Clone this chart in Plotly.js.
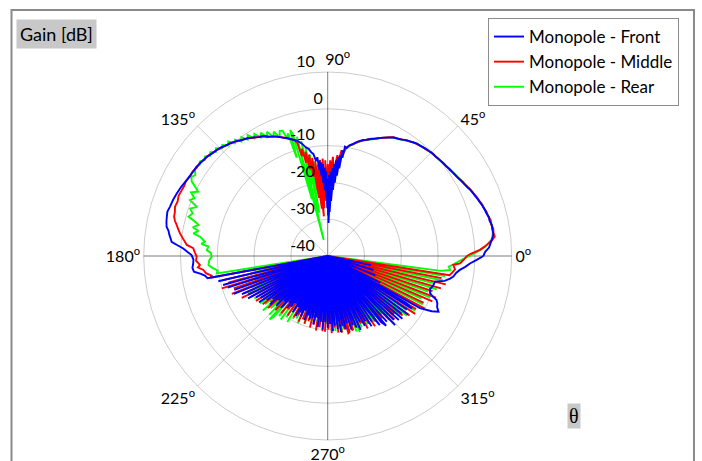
<!DOCTYPE html>
<html>
<head>
<meta charset="utf-8">
<script src="https://cdn.plot.ly/plotly-3.0.1.min.js"></script>
<style>
html,body{margin:0;padding:0;background:#fff;}
#chart{width:702px;height:461px;}
</style>
</head>
<body>
<div id="chart"></div>
<script>
// ---------- DATA (angle in degrees, gain in dB) ----------
const seriesNames = ["Monopole - Front", "Monopole - Middle", "Monopole - Rear"];
const angleTicks = [0, 45, 90, 135, 180, 225, 270, 315];
const angleTickText = ["0<sup>o</sup>", "45<sup>o</sup>", "\u2003\u200290<sup>o</sup>", "135<sup>o</sup>", "180<sup>o</sup>", "225<sup>o</sup>", "270<sup>o</sup>", "315<sup>o</sup>"];
const gainTicks = [-40, -30, -20, -10, 0, 10];
const gainTickText = ["-40", "-30", "-20", "-10", "0", "10"];

const frontTheta = [0,1.5,3,4.5,5.6,7,8,9.5,10.7,12.5,13.5,15,16.5,18,19.5,20.4,22,23.5,25,25.7,27.5,29.5,31.6,33.5,35.5,37,38.7,40.5,42.5,44,45.5,47.5,49.5,51.7,53.5,55.7,57.5,59.5,61,63,65,67.4,69.5,71.5,73,74.3,76,77.5,79,80,81,
81.5,82,82.5,83,83.5,84,84.5,85,85.5,86,86.5,87,87.5,88,88.5,89,89.5,90,90.5,91,91.5,92,92.5,93,93.5,94,94.5,95,95.5,96,97,98,99,100,
101.5,103,105,107,109,110.5,111.9,113.5,115,116.5,118.2,120,122,124.5,126.5,128.5,130.9,133,134.5,136.3,138.5,140.6,143,145.7,148.5,151.7,154.5,157.5,160,162.6,164.5,166.3,168,169.7,171,172.4,173.5,174.8,176,177,178.5,179.6,181.5,183.1,185,186.7,188,189.1,190.5,
192,193,194,195.5,196.5,197.5,198.5,200,201,202,203,204,205,206,207,208,209,210,211,212,213,214,215,216,217,218,219,220,221,222,223,224,225,226,227,228,229,230,231,232,233,234,235,236,237,238,239,240,241,242,243,244,245,246,247,248,249,250,251,252,253,254,255,256,257,258,259,260,261,262,263,264,265,266,267,268,269,270,271,272,273,274,275,276,277,278,279,280,281,282,283,284,285,286,287,288,289,290,291,292,293,294,295,296,297,298,299,300,301,302,303,304,305,306,307,308,309,310,311,312,313,314.3,315,316,317,318,319,320,321,322,323,324,325,326,327,328,329,329.5,333,334,338,339,343,344,348,349,
330.5,332,333.3,335,336.5,338,339,340,342,344,346.6,348,349.5,350.7,352.5,354,355.5,357,358.5,360];
const frontGain = [2.3,2.8,3.9,4.4,4.8,5.3,5.4,5.3,5.4,5.0,5.1,4.7,4.5,4.2,3.9,3.7,3.3,3.0,2.7,2.4,2.0,1.6,1.15,0.9,0.7,0.4,0.3,0.1,-0.1,-0.1,-0.3,-0.5,-0.8,-1.0,-1.5,-1.9,-2.5,-2.9,-3.2,-3.9,-4.5,-5.4,-6.0,-6.7,-7.0,-7.5,-8.2,-8.9,-9.4,-10.2,-9.9,
-13,-11,-16,-12.5,-18,-13,-20,-14,-22,-15,-25,-16,-28,-17,-31,-18,-29,-19,-27,-17,-24,-16,-22,-15,-20,-14.5,-18,-14,-16.5,-13,-14,-12,-11.5,-10.5,
-9.8,-8.6,-7.5,-6.9,-6.1,-5.7,-5.2,-4.6,-4.2,-3.8,-3.0,-2.7,-2.0,-1.2,-0.8,-0.1,0.5,0.9,1.4,1.7,2.0,2.5,2.7,3.1,3.2,3.5,4.0,4.4,4.7,4.9,5.2,5.0,4.8,4.5,3.8,3.4,3.0,2.6,0.8,-0.7,-2.0,-3.0,-3.5,-3.4,-3.1,-3.4,-5.2,-6.2,-6.8,
-40,-9.5,-40,-10.5,-40,-11.5,-40,-13,-40,-12.5,-40,-14.5,-40,-16,-40,-15.5,-40,-17.5,-40,-18.5,-40,-17.5,-32,-19.5,-40,-21,-31,-19.5,-40,-22,-33,-20.5,-40,-23,-30,-21,-40,-23.5,-32,-22,-40,-23,-31,-24.5,-40,-22,-33,-24,-40,-21.5,-30,-23,-40,-22,-32,-24,-40,-21.5,-31,-23,-40,-22,-33,-22.6,-40,-21,-30,-23,-40,-20.5,-32,-22,-40,-20,-31,-22,-40,-20.5,-33,-21.5,-40,-19.5,-30,-21,-40,-20,-32,-19,-40,-20.5,-31,-19.5,-40,-21,-33,-19,-40,-20,-30,-19,-40,-18,-32,-20,-40,-18.5,-31,-19.5,-40,-17.5,-40,-18.5,-40,-22,-16.5,-40,-17,-15.3,-40,-16,-40,-13.8,-40,-15,-40,-14,-40,-13.5,-40,-14.5,-40,-13,-40,-14,-40,-13,-15,-40,-24,-40,-26,-40,-27,-40,-28,-40,
-11.2,-8,-6.3,-7.2,-7.5,-8.1,-9.5,-10.4,-10.8,-10.3,-10,-7.5,-6.2,-5.4,-4.8,-3.9,-2.5,-1.3,0.5,2.3];

const middleTheta = [0,1,2.3,3.5,4.5,5.5,6.6,8,9.5,11,12.5,14,15.5,17,18.5,20,21.5,23,24.5,26,27.5,29,31,33,35,37,39,41,43,45,47,49,51,53,55,57,59,61,63,65,67,69,71,73,75,77,79,80.5,
81.5,82.5,83.5,84.5,85.5,86.4,87,88,88.5,89.5,90,91,91.5,92.5,93,94,94.6,95.5,96,97,97.5,98.5,99,100,100.5,101.5,102,103,103.5,104.5,105,
106,108,110,112,114,116,118,120,122,124,126,128,130,132,134,136,138,140,142,144,146,148,150,152,154,155.7,158,160,162.1,164,165.6,167,168.4,170,171.3,172.8,174.3,175.5,176.7,178.5,180.3,182,184,185,186.4,188,189.6,190.5,
191.5,193,194,195,196,197,198,199,200,201.5,202.5,204,205,206,207,208,209,210,211,212,213,214,215,216.5,217.5,219,220,221,222,223.5,224.5,226,227,228.5,229.5,231,232,233.5,234.5,236,237,238.5,239.5,241,242,243.5,244.5,246,247,248.5,249.5,251,252,253.5,254.5,256,257,258.5,259.5,261,262,263.5,264.5,266,267,268,269,270.5,271.5,273,274,275.5,276.5,278,279,280.5,281.5,283,284,285,286,287,288,289,290,291.5,292.5,294,295,296.5,297.5,299,300,301.5,302.5,304,305,306.5,307.5,309,310,311.5,312.5,314,315,316.5,317.5,319,320,321.5,322.5,324,325,326.5,327.5,329,330,331.5,332.5,334,335,336.5,337.5,339,340,341.5,342.5,344,345,346.5,347.5,349,350,
351,352.5,354,355.9,356.8,358.3,360];
const middleGain = [-2.2,-1.0,1.4,2.8,3.8,4.9,5.7,5.5,5.6,5.2,5.3,4.9,4.8,4.4,4.2,3.8,3.6,3.2,2.9,2.5,2.1,1.8,1.3,1.0,0.6,0.5,0.2,0.1,-0.2,-0.2,-0.6,-0.7,-1.1,-1.3,-1.9,-2.3,-2.8,-3.1,-3.8,-4.6,-5.2,-5.9,-6.5,-7.2,-7.9,-8.7,-9.5,-10.3,
-12,-11,-14,-12.5,-16,-15.7,-13,-18,-14,-20,-15,-22,-14,-25,-13.5,-27,-13.8,-29.2,-15,-27,-14,-24,-13,-18.1,-12,-16,-11,-14,-10,-12,-8.3,
-7.2,-6.6,-5.8,-5.1,-4.5,-3.9,-3.2,-2.6,-2.1,-1.4,-0.9,-0.4,0.3,0.7,1.1,1.6,2.0,2.4,2.6,3.0,2.9,3.3,3.2,3.6,3.4,3.5,3.7,3.4,3.6,3.2,3.1,2.6,1.9,1.2,0.6,-0.2,-1.0,-1.6,-3.4,-3.9,-4.4,-4.2,-5.2,-4.6,-6.0,-6.6,-8.0,-7.6,
-40,-10.5,-40,-12,-40,-9.9,-40,-13,-40,-12,-40,-15,-40,-14,-40,-16.5,-40,-18.8,-40,-17,-40,-19,-40,-18,-40,-20,-40,-18.5,-40,-21,-40,-19.5,-40,-21.5,-40,-20,-40,-22,-40,-20.5,-40,-22.5,-40,-21,-40,-22,-40,-20.5,-40,-21.5,-40,-20.5,-40,-21.5,-40,-20,-40,-21,-40,-19.5,-40,-20.5,-40,-19.5,-40,-19.4,-40,-20,-40,-19,-40,-20.5,-40,-19,-40,-18.8,-40,-19.5,-40,-18.3,-18.5,-40,-19,-18.7,-40,-19.5,-40,-18,-40,-19.5,-40,-17.5,-40,-18.5,-40,-17,-40,-18,-40,-16.5,-40,-17.5,-40,-16,-40,-15,-40,-16,-40,-14,-40,-12.5,-40,-11.5,-40,-12,-40,-10,-40,-11,-40,-9,-40,-8.5,-40,-10,-40,-8,-40,-7,-40,-8.5,-40,
-6.5,-5.8,-5.2,-5.8,-4.0,-3.1,-2.2];

const rearTheta = [0,1.5,3,4.5,6,7.5,9,10.5,12,13.5,15,16.5,18,19.5,21,22.5,24,25.5,27,29,31,33,35,37,39,41,43,45,47,49,51,53,55,57,59,61,63,65,67,69,71,73,75,77,79,80.5,
82,83,84,85,86,87,88,89,89.5,90,90.5,91,92,93,94,95,96,97,98,98.5,99.5,100,101,101.5,102.5,103,104,104.5,105.5,106,106.6,107.5,108,109,109.8,
111,112,113.5,114.5,116,117,118.5,119.5,121,122,123.5,124.5,126,127,128.5,129.5,131,132,133.5,134.5,136,137,138.5,139.5,141,142,143.5,144.5,146,147,
148.5,150,151.3,152.5,153.6,155,156.5,157.9,159.4,161,162.5,164.2,165.5,166.5,168,169,170.4,171.5,173.3,174.5,175.5,177.2,178.5,180.3,182,184.3,186,187.5,188.9,
190,190.5,191.5,192.5,193.5,195,196,197.5,198.5,200,201,202.5,203.5,205,206,207.5,208.5,210,211,212.5,213.5,215,216,217.5,218.5,220,221,222.5,223.5,225,226,227.5,228.5,229.5,231,232,233.5,234.5,236,237,238.5,239.5,241,242,243.5,244.5,246,247,248.5,249.5,251,252,253.5,254.5,256,257,258.5,259.5,261,262,263.5,264.5,266,267,268.5,269.5,271,272,273.5,274.5,276,277,278.5,279.5,281,282,283.5,284.5,286,287,288.5,289.5,291,292,293,294,295.5,296.5,298,299,300.5,301.5,303,304,305.5,306.5,308,309,310.5,311.5,313,314,315.5,316.5,318,319,320.5,321.5,323,324,325.5,326.5,328,329,330.5,331.5,333,334,335.5,336.5,338,339,340.5,341.5,343,344,345.5,346.5,348,349,350.3,351.5,
352.5,353.5,355,356.5,358,359,360];
const rearGain = [-1.5,0.5,2.5,3.8,4.9,5.2,5.5,5.3,5.4,5.0,4.8,4.5,4.3,3.8,3.6,3.3,2.9,2.7,2.2,1.9,1.4,1.1,0.7,0.5,0.3,0.0,-0.1,-0.3,-0.5,-0.8,-1.0,-1.4,-1.8,-2.4,-2.9,-3.2,-3.9,-4.5,-5.3,-6.0,-6.6,-7.1,-7.8,-8.8,-9.6,-10.5,
-13,-15,-14,-17,-16,-20,-17.5,-23,-19,-26,-20,-24,-18,-22,-16,-20,-15,-18,-19,-14,-22,-12,-28,-10,-20,-8,-35.5,-6.5,-24,-5.5,-4.3,-12,-5.0,-6.2,-3.8,
-3.6,-5.2,-3.2,-4.5,-2.4,-3.9,-1.9,-3.0,-1.3,-2.3,-0.6,-1.6,-0.1,-1.0,0.4,-0.3,1.2,0.4,1.6,1.0,2.2,1.5,2.6,2.0,2.9,2.4,3.2,2.7,3.2,3.0,
2.2,2.8,2.1,0.5,-0.7,1.0,-0.5,0.4,-2.0,-0.5,-1.5,-0.7,-2.8,-3.9,-2.5,-4.2,-3.0,-5.0,-6.4,-5.5,-7.5,-7.1,-8.2,-8.5,-7.8,-7.5,-8.6,-9.8,-9.5,
-40,-13,-40,-18.6,-40,-14,-40,-16.5,-40,-15,-40,-17.5,-40,-16,-40,-18.5,-40,-17,-40,-19,-40,-17.5,-40,-18.5,-40,-17,-40,-19,-40,-17.5,-40,-16.6,-18,-40,-19,-40,-18.5,-40,-20,-40,-19,-40,-20.5,-40,-21,-40,-20,-40,-22,-40,-21,-40,-22.5,-40,-21.5,-40,-22,-40,-21,-40,-22.5,-40,-21,-40,-21.5,-40,-20.5,-40,-21,-40,-19.5,-40,-20.5,-40,-19,-40,-19.5,-40,-18.5,-40,-19,-40,-18,-40,-17.6,-40,-18.5,-40,-19,-40,-18.5,-40,-19.5,-40,-18,-40,-19,-40,-17.5,-40,-18.5,-40,-17,-40,-16,-40,-14.5,-40,-13,-40,-14,-40,-12,-40,-13,-40,-11,-40,-12,-40,-10,-40,-11,-40,-9,-40,-10.5,-40,-8,-40,-7.6,-40,
-9,-6.5,-7,-5.5,-4.0,-2.8,-1.5];

// ---------- CHART ----------
const seriesTheta = [rearTheta, middleTheta, frontTheta];
const seriesGain = [rearGain, middleGain, frontGain];
const seriesLabel = [seriesNames[2], seriesNames[1], seriesNames[0]];
const seriesColor = ["#00ff00", "#ff0000", "#0000ff"];

// radial labels sit left of the axis and just above their ring
const padWide = "\u2002\u2009";
const padNarrow = "\u2009";
const gainTickLabels = gainTickText.map(t => t + (t.length > 1 ? padWide : padNarrow) + "<br>\u00a0");

const font = "Lato, 'Open Sans', sans-serif";
const traces = [{
  type: "scatterpolar", subplot: "polar", r: [], theta: [],
  mode: "lines", showlegend: false, hoverinfo: "skip"
}];
for (let i = 0; i < 3; i++) {
  traces.push({
    type: "scatterpolar", subplot: "polar2",
    r: seriesGain[i], theta: seriesTheta[i], name: seriesLabel[i],
    mode: "lines", line: {color: seriesColor[i], width: 1.9}
  });
}

const dom = {x: [143.7/702, 511.7/702], y: [21/461, 389/461]};
const layout = {
  width: 702, height: 461,
  margin: {l: 0, r: 0, t: 0, b: 0},
  paper_bgcolor: "#ffffff",
  font: {family: font, size: 16, color: "#000"},
  showlegend: true,
  legend: {
    x: 488/702, y: 1 - 18/461, xanchor: "left", yanchor: "top",
    bgcolor: "#ffffff", bordercolor: "#8c8c8c", borderwidth: 1,
    font: {family: font, size: 17, color: "#000"},
    traceorder: "reversed", itemwidth: 30
  },
  polar: {
    domain: dom, bgcolor: "#ffffff",
    radialaxis: {visible: false, range: [-40, 10]},
    angularaxis: {
      rotation: 0, direction: "counterclockwise",
      tickmode: "array", tickvals: [0, 90, 180, 270],
      showticklabels: false, ticks: "", showline: false,
      gridcolor: "#a6a6a6", gridwidth: 1
    }
  },
  polar2: {
    domain: dom, bgcolor: "rgba(0,0,0,0)",
    radialaxis: {
      range: [-40, 10], tickmode: "array", tickvals: gainTicks, ticktext: gainTickLabels,
      angle: 90, side: "counterclockwise", tickangle: 90,
      showline: false, ticks: "", gridcolor: "rgba(0,0,0,0.2)",
      tickfont: {family: font, size: 16, color: "#000"}
    },
    angularaxis: {
      rotation: 0, direction: "counterclockwise",
      tickmode: "array", tickvals: angleTicks, ticktext: angleTickText,
      ticks: "", showline: true, linecolor: "rgba(0,0,0,0.2)", linewidth: 1,
      gridcolor: "rgba(0,0,0,0.2)",
      tickfont: {family: font, size: 16, color: "#000"}
    }
  },
  shapes: [{
    type: "rect", xref: "paper", yref: "paper",
    x0: 11.5/702, x1: 694/702, y0: -0.2, y1: 1 - 10/461,
    line: {color: "#8a8a8a", width: 2}
  }],
  annotations: [
    {text: "Gain [dB]", xref: "paper", yref: "paper", x: 16/702, y: 1 - 19/461,
     xanchor: "left", yanchor: "top", showarrow: false, bgcolor: "#c8c8c8",
     borderpad: 3, font: {family: font, size: 18, color: "#000"}},
    {text: "θ", xref: "paper", yref: "paper", x: 567/702, y: 1 - 403/461,
     xanchor: "left", yanchor: "top", showarrow: false, bgcolor: "#c8c8c8",
     borderpad: 1, font: {family: "'Liberation Serif', serif", size: 20, color: "#000"}}
  ]
};

Plotly.newPlot("chart", traces, layout, {staticPlot: true});
</script>
</body>
</html>
